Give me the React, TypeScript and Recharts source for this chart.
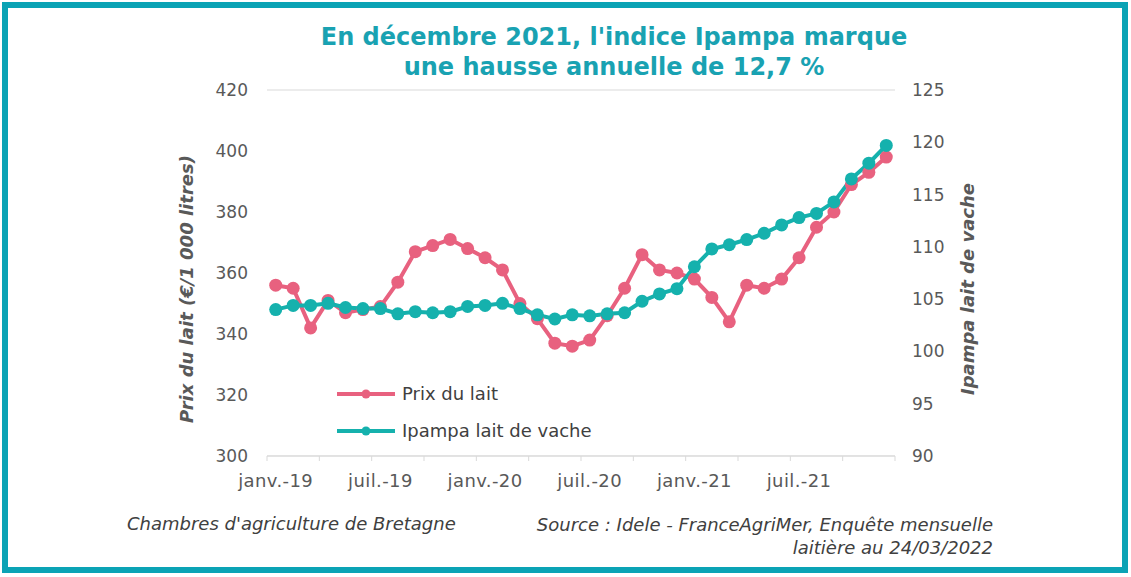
import { LineChart, Line, XAxis, YAxis, CartesianGrid, Legend, Label } from 'recharts';

const months = [
  'janv.-19', 'févr.-19', 'mars-19', 'avr.-19', 'mai-19', 'juin-19',
  'juil.-19', 'août-19', 'sept.-19', 'oct.-19', 'nov.-19', 'déc.-19',
  'janv.-20', 'févr.-20', 'mars-20', 'avr.-20', 'mai-20', 'juin-20',
  'juil.-20', 'août-20', 'sept.-20', 'oct.-20', 'nov.-20', 'déc.-20',
  'janv.-21', 'févr.-21', 'mars-21', 'avr.-21', 'mai-21', 'juin-21',
  'juil.-21', 'août-21', 'sept.-21', 'oct.-21', 'nov.-21', 'déc.-21',
];

// €/1 000 litres
const prixLait = [
  356, 355, 342, 351, 347, 348, 349, 357, 367, 369, 371, 368,
  365, 361, 350, 345, 337, 336, 338, 346, 355, 366, 361, 360,
  358, 352, 344, 356, 355, 358, 365, 375, 380, 389, 393, 398,
];

// indice Ipampa lait de vache
const ipampa = [
  104.0, 104.4, 104.4, 104.6, 104.2, 104.1, 104.1, 103.6, 103.8, 103.7, 103.8, 104.3,
  104.4, 104.6, 104.1, 103.5, 103.1, 103.5, 103.4, 103.6, 103.7, 104.8, 105.5, 106.0,
  108.1, 109.8, 110.2, 110.7, 111.3, 112.1, 112.8, 113.2, 114.3, 116.5, 118.0, 119.7,
];

const leftTicks = [300, 320, 340, 360, 380, 400, 420];
const rightTicks = [90, 95, 100, 105, 110, 115, 120, 125];
const seriesOrder = ['Prix du lait', 'Ipampa lait de vache'];

const data = months.map((m, i) => ({ mois: m, prix: prixLait[i], ipampa: ipampa[i] }));

const PINK = '#E8617F';
const TEAL = '#15B1AD';
const TITLE = '#19A2B2';
const FRAME = '#0BA3B5';
const TEXT = '#595959';
const GRID = '#D9D9D9';
const FONT = "'DejaVu Sans', Verdana, sans-serif";

function MonthTick(props: any) {
  const { x, y, payload, index } = props;
  const half = payload && payload.offset ? payload.offset : 8.7;
  const last = index === months.length - 1;
  return (
    <g>
      {index % 3 === 0 && (
        <line x1={x - half} y1={y} x2={x - half} y2={y + 5} stroke={GRID} strokeWidth={1} />
      )}
      {last && <line x1={x + half} y1={y} x2={x + half} y2={y + 5} stroke={GRID} strokeWidth={1} />}
      {index % 6 === 0 && (
        <text x={x} y={y + 31} textAnchor="middle" fill={TEXT} fontSize={18} letterSpacing={0.4} fontFamily={FONT}>
          {payload.value}
        </text>
      )}
    </g>
  );
}

function axisTitle(text: string, dx: number) {
  return (props: any) => {
    const vb = props.viewBox || {};
    const cx = vb.x + dx;
    const cy = vb.y + vb.height / 2 + 16;
    return (
      <text
        x={cx}
        y={cy}
        transform={`rotate(-90, ${cx}, ${cy})`}
        textAnchor="middle"
        dominantBaseline="central"
        fill={TEXT}
        fontSize={18}
        fontWeight="bold"
        fontStyle="italic"
        fontFamily={FONT}
      >
        {text}
      </text>
    );
  };
}

function LegendBox(props: any) {
  const items = [...(props.payload || [])].sort(
    (a: any, b: any) => seriesOrder.indexOf(a.value) - seriesOrder.indexOf(b.value),
  );
  return (
    <div>
      {items.map((it: any) => (
        <div key={it.value} style={{ display: 'flex', alignItems: 'center', height: 37 }}>
          <svg width={62} height={14}>
            <line x1={2} y1={7} x2={60} y2={7} stroke={it.color} strokeWidth={4} />
            <circle cx={31} cy={7} r={4.5} fill={it.color} />
          </svg>
          <span style={{ marginLeft: 5, fontFamily: FONT, fontSize: 18, color: '#404040' }}>{it.value}</span>
        </div>
      ))}
    </div>
  );
}

export default function App() {
  return (
    <div style={{ position: 'absolute', left: 0, top: 0, width: 1131, height: 577, background: '#fff' }}>
      <div
        style={{
          position: 'absolute', left: 2, top: 2, width: 1126, height: 571,
          border: `6px solid ${FRAME}`, boxSizing: 'border-box',
        }}
      />
      <div
        style={{
          position: 'absolute', left: 0, top: 22, width: 1228, textAlign: 'center',
          fontFamily: FONT, fontWeight: 'bold', fontSize: 24, lineHeight: '30px', color: TITLE,
        }}
      >
        En décembre 2021, l'indice Ipampa marque
        <br />
        une hausse annuelle de 12,7 %
      </div>

      <div style={{ position: 'absolute', left: 0, top: 0 }}>
        <LineChart width={1131} height={577} data={data} margin={{ top: 90, right: 146, bottom: 81, left: 177 }}>
          <CartesianGrid vertical={false} stroke={GRID} />
          <XAxis
            dataKey="mois"
            scale="band"
            interval={0}
            height={40}
            tickLine={false}
            tickSize={0}
            tickMargin={0}
            axisLine={{ stroke: GRID }}
            tick={<MonthTick />}
          />
          <YAxis
            yAxisId="left"
            domain={[300, 420]}
            ticks={leftTicks}
            width={90}
            axisLine={false}
            tickLine={false}
            tickMargin={13}
            tick={{ fill: TEXT, fontSize: 17, fontFamily: FONT }}
          >
            <Label content={axisTitle('Prix du lait (€/1 000 litres)', 9)} />
          </YAxis>
          <YAxis
            yAxisId="right"
            orientation="right"
            domain={[90, 125]}
            ticks={rightTicks}
            width={90}
            axisLine={false}
            tickLine={false}
            tickMargin={11}
            tick={{ fill: TEXT, fontSize: 17, fontFamily: FONT }}
          >
            <Label content={axisTitle('Ipampa lait de vache', 72)} />
          </YAxis>
          <Legend
            layout="vertical"
            align="center"
            verticalAlign="middle"
            content={<LegendBox />}
            wrapperStyle={{ left: 335, top: 375, width: 320, bottom: 'auto' }}
          />
          <Line
            yAxisId="left"
            dataKey="prix"
            name="Prix du lait"
            stroke={PINK}
            strokeWidth={4}
            dot={{ r: 6.5, fill: PINK, stroke: PINK, strokeWidth: 0 }}
            isAnimationActive={false}
          />
          <Line
            yAxisId="right"
            dataKey="ipampa"
            name="Ipampa lait de vache"
            stroke={TEAL}
            strokeWidth={4}
            dot={{ r: 6.5, fill: TEAL, stroke: TEAL, strokeWidth: 0 }}
            isAnimationActive={false}
          />
        </LineChart>
      </div>

      <div
        style={{
          position: 'absolute', left: 127, top: 513, fontFamily: FONT, fontStyle: 'italic',
          fontSize: 18, color: '#404040',
        }}
      >
        Chambres d'agriculture de Bretagne
      </div>
      <div
        style={{
          position: 'absolute', right: 1131 - 993, top: 513, textAlign: 'right', fontFamily: FONT,
          fontStyle: 'italic', fontSize: 18, lineHeight: '23px', color: '#404040',
        }}
      >
        Source : Idele - FranceAgriMer, Enquête mensuelle
        <br />
        laitière au 24/03/2022
      </div>
    </div>
  );
}
